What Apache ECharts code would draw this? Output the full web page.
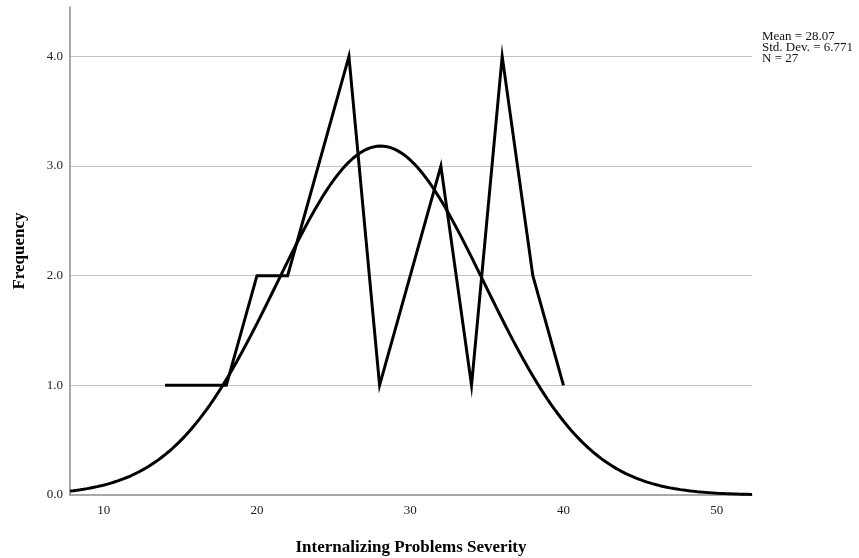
<!DOCTYPE html>
<html>
<head>
<meta charset="utf-8">
<script src="https://cdn.jsdelivr.net/npm/echarts@6/dist/echarts.min.js"></script>
<style>
  html, body { margin: 0; padding: 0; background: #fff; }
  #chart { width: 859px; height: 558px; }
</style>
</head>
<body>
<div id="chart"></div>
<script>
// Frequency polygon: bin midpoints and counts
const binMids = [14, 18, 20, 22, 26, 28, 32, 34, 36, 38, 40];
const binCounts = [1, 1, 2, 2, 4, 1, 3, 1, 4, 2, 1];

// Summary statistics shown in the corner
const mean = 28.07;
const stdDev = 6.771;
const n = 27;
const binWidth = 2;

const xTicks = [10, 20, 30, 40, 50];
const yTicks = [0, 1, 2, 3, 4];
const xMin = 7.8, xMax = 52.3;
const yMax = 4.45;

// Normal curve scaled to the histogram counts
const curve = [];
for (let i = 0; i <= 200; i++) {
  const x = xMin + (xMax - xMin) * i / 200;
  const z = (x - mean) / stdDev;
  const y = n * binWidth / (stdDev * Math.sqrt(2 * Math.PI)) * Math.exp(-0.5 * z * z);
  curve.push([x, y]);
}

const serif = '"Liberation Serif", "DejaVu Serif", serif';
const chart = echarts.init(document.getElementById('chart'));
chart.setOption({
  animation: false,
  grid: { left: 70, top: 7, right: 107, bottom: 63, outerBoundsMode: 'none', containLabel: false },
  xAxis: {
    type: 'value',
    min: xMin, max: xMax,
    name: 'Internalizing Problems Severity',
    nameLocation: 'middle',
    nameGap: 44,
    nameTextStyle: { fontFamily: serif, fontSize: 17, fontWeight: 'bold', color: '#000' },
    axisLine: { show: true, lineStyle: { color: '#8c8c8c', width: 1.5 } },
    axisTick: { show: false },
    splitLine: { show: false },
    axisLabel: {
      customValues: xTicks,
      fontFamily: serif, fontSize: 13, color: '#222', margin: 9
    }
  },
  yAxis: {
    type: 'value',
    min: 0, max: yMax, interval: 1,
    name: 'Frequency',
    nameLocation: 'middle',
    nameGap: 42,
    nameRotate: 90,
    nameTextStyle: { fontFamily: serif, fontSize: 17, fontWeight: 'bold', color: '#000' },
    axisLine: { show: true, lineStyle: { color: '#8c8c8c', width: 1.5 } },
    axisTick: { show: false },
    axisLabel: {
      customValues: yTicks,
      formatter: v => v.toFixed(1),
      fontFamily: serif, fontSize: 13, color: '#222', margin: 7
    },
    splitLine: {
      show: true,
      showMinLine: false,
      showMaxLine: false,
      lineStyle: { color: '#c4c4c4', width: 1 }
    }
  },
  graphic: [{
    type: 'text',
    left: 762, top: 30,
    style: {
      text: 'Mean = ' + mean.toFixed(2) + '\nStd. Dev. = ' + stdDev.toFixed(3) + '\nN = ' + n,
      font: '13px ' + serif,
      fill: '#111',
      lineHeight: 11
    }
  }],
  series: [
    {
      type: 'line',
      data: binMids.map((x, i) => [x, binCounts[i]]),
      symbol: 'none',
      lineStyle: { color: '#000', width: 3, join: 'miter', miterLimit: 10 },
      z: 3
    },
    {
      type: 'line',
      data: curve,
      symbol: 'none',
      smooth: false,
      lineStyle: { color: '#000', width: 3 },
      z: 3
    }
  ]
});
</script>
</body>
</html>
